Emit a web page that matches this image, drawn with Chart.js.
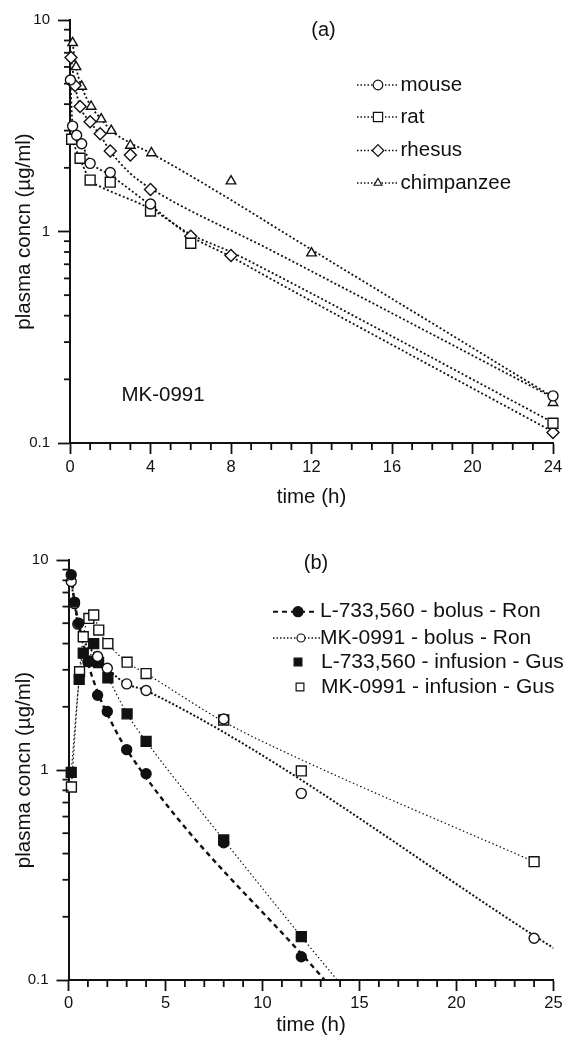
<!DOCTYPE html>
<html>
<head>
<meta charset="utf-8">
<script src="https://cdn.jsdelivr.net/npm/chart.js@4.4.1/dist/chart.umd.min.js"></script>
<style>
  html, body { margin: 0; padding: 0; background: #fff; }
  canvas { display: block; }
</style>
</head>
<body>
<canvas id="chartA" width="567" height="520" style="width:567px;height:520px"></canvas>
<canvas id="chartB" width="567" height="518" style="width:567px;height:518px"></canvas>
<script>
// ---- panel (a): MK-0991 in four species (h, ug/ml) ----
const speciesLabels = ['mouse', 'rat', 'rhesus', 'chimpanzee'];
const mouseTime  = [0.02, 0.13, 0.33, 0.58, 1.0, 2.0, 4.0, 24];
const mouseConc  = [5.2, 3.15, 2.85, 2.6, 2.1, 1.9, 1.35, 0.167];
const ratTime    = [0.08, 0.5, 1.0, 2.0, 4.0, 6.0, 24];
const ratConc    = [2.73, 2.22, 1.75, 1.71, 1.25, 0.88, 0.124];
const rhesusTime = [0.05, 0.25, 0.5, 1.0, 1.5, 2.0, 3.0, 4.0, 6.0, 8.0, 24];
const rhesusConc = [6.65, 4.9, 3.9, 3.3, 2.9, 2.4, 2.3, 1.58, 0.95, 0.77, 0.112];
const chimpTime  = [0.13, 0.3, 0.58, 1.05, 1.55, 2.05, 3.0, 4.05, 8.0, 12.0, 24];
const chimpConc  = [7.8, 6.0, 4.85, 3.9, 3.4, 3.0, 2.55, 2.35, 1.73, 0.79, 0.155];

// fitted curves (dotted)
const fitChimpTime  = [0.13, 0.3, 0.58, 1.05, 1.55, 2.05, 3.0, 4.0, 13.4, 24];
const fitChimpConc  = [7.8, 6.0, 4.85, 3.9, 3.4, 3.0, 2.62, 2.35, 0.68, 0.165];
const fitRhesusTime = [0.05, 0.25, 0.5, 1.0, 1.5, 2.0, 3.0, 4.0, 9.94, 24];
const fitRhesusConc = [6.6, 4.9, 3.9, 3.3, 2.85, 2.4, 1.88, 1.6, 0.82, 0.164];
const fitRatTime    = [0.08, 0.5, 1.0, 1.5, 2.0, 4.0, 6.0, 8.0, 9.94, 24];
const fitRatConc    = [2.73, 2.2, 1.75, 1.63, 1.55, 1.28, 0.97, 0.8, 0.645, 0.125];
const fitMouseTime  = [0.02, 0.13, 0.33, 0.58, 1.0, 2.0, 4.0, 6.0, 8.0, 9.94, 24];
const fitMouseConc  = [5.2, 3.15, 2.85, 2.6, 2.15, 1.85, 1.33, 0.95, 0.76, 0.6, 0.113];

// ---- panel (b): L-733,560 vs MK-0991 ----
const seriesLabelsB = ['L-733,560 - bolus - Ron', 'MK-0991 - bolus - Ron',
                       'L-733,560 - infusion - Gus', 'MK-0991 - infusion - Gus'];
const bolusL733Time = [0.14, 0.31, 0.53, 1.0, 1.5, 2.0, 3.0, 4.0, 8.0, 12.0];
const bolusL733Conc = [8.5, 6.3, 5.0, 3.28, 2.27, 1.9, 1.25, 0.96, 0.45, 0.129];
const bolusMKTime   = [0.14, 0.31, 0.48, 1.5, 2.0, 3.0, 4.0, 8.0, 12.0, 24];
const bolusMKConc   = [7.9, 6.2, 4.95, 3.47, 3.05, 2.57, 2.39, 1.75, 0.774, 0.158];
const infL733Time   = [0.14, 0.55, 0.76, 1.05, 1.3, 1.55, 2.03, 3.02, 4.0, 8.0, 12.0];
const infL733Conc   = [0.975, 2.7, 3.6, 3.3, 4.0, 3.25, 2.75, 1.85, 1.37, 0.465, 0.161];
const infMKTime     = [0.15, 0.57, 0.76, 1.05, 1.3, 1.56, 2.03, 3.02, 4.0, 8.0, 12.0, 24];
const infMKConc     = [0.83, 2.94, 4.31, 5.27, 5.47, 4.64, 4.0, 3.26, 2.88, 1.73, 0.99, 0.366];

// lines drawn through / fitted to the panel (b) data
const lineBolusL733Time = [0.14, 0.31, 0.53, 1.0, 1.5, 2.0, 3.0, 13.2];
const lineBolusL733Conc = [8.5, 6.3, 5.0, 3.25, 2.35, 1.85, 1.25, 0.1];
const lineBolusMKTime   = [0.14, 0.31, 0.48, 1.5, 2.0, 3.0, 4.0, 25];
const lineBolusMKConc   = [7.9, 6.2, 4.95, 3.47, 3.05, 2.57, 2.39, 0.142];
const lineInfL733Time   = [0.14, 0.55, 0.76, 1.05, 1.3, 1.55, 2.03, 3.02, 4.0, 8.0, 12.0, 13.85];
const lineInfL733Conc   = [0.975, 2.7, 3.6, 3.3, 4.0, 3.25, 2.75, 1.85, 1.37, 0.465, 0.161, 0.1];
const lineInfMKTime     = [0.15, 0.57, 0.76, 1.05, 1.3, 1.56, 2.03, 3.02, 4.0, 8.0, 12.0, 24];
const lineInfMKConc     = [0.83, 2.94, 4.31, 5.27, 5.47, 4.64, 4.0, 3.26, 2.88, 1.7, 1.12, 0.366];

// ---- ticks ----
const yMajorTicks  = [0.1, 1, 10];
const yTickLabels  = ['0.1', '1', '10'];
const yMinorTicks  = [0.2, 0.3, 0.4, 0.5, 0.6, 0.7, 0.8, 0.9, 2, 3, 4, 5, 6, 7, 8, 9];
const xTicksA      = [0, 4, 8, 12, 16, 20, 24];
const xMinorA      = [1, 2, 3, 5, 6, 7, 9, 10, 11, 13, 14, 15, 17, 18, 19, 21, 22, 23];
const xTicksB      = [0, 5, 10, 15, 20, 25];
const xMinorB      = [1, 2, 3, 4, 6, 7, 8, 9, 11, 12, 13, 14, 16, 17, 18, 19, 21, 22, 23, 24];

const INK = '#111';
const FONT = '"Liberation Sans", Arial, Helvetica, sans-serif';
Chart.defaults.font.family = FONT;
Chart.defaults.color = INK;

const pts = (t, c) => t.map((v, i) => ({ x: v, y: c[i] }));

function drawMarker(ctx, style, x, y, r, fill) {
  ctx.beginPath();
  if (style === 'circle') {
    ctx.arc(x, y, r, 0, Math.PI * 2);
  } else if (style === 'rect') {
    const s = r * Math.SQRT1_2;
    ctx.rect(x - s, y - s, 2 * s, 2 * s);
  } else if (style === 'rectRot') {
    ctx.moveTo(x, y - r); ctx.lineTo(x + r, y); ctx.lineTo(x, y + r); ctx.lineTo(x - r, y);
    ctx.closePath();
  } else if (style === 'triangle') {
    for (let k = 0; k < 3; k++) {
      const a = -Math.PI / 2 + k * 2 * Math.PI / 3;
      k === 0 ? ctx.moveTo(x + r * Math.cos(a), y + r * Math.sin(a)) : ctx.lineTo(x + r * Math.cos(a), y + r * Math.sin(a));
    }
    ctx.closePath();
  }
  ctx.fillStyle = fill;
  ctx.fill();
  ctx.stroke();
}

// minor tick marks (from the chart's own scales), texts and the in-plot legend
function makeAnnotate(minorX, minorY, texts, legend) {
  return {
    id: 'annotate',
    afterDraw(chart) {
      const ctx = chart.ctx;
      const area = chart.chartArea;
      const sx = chart.scales.x, sy = chart.scales.y;
      ctx.save();
      ctx.fillStyle = INK;
      minorY.forEach(v => {
        const y = sy.getPixelForValue(v);
        ctx.fillRect(area.left - 6, y - 0.9, 6, 1.8);
      });
      minorX.forEach(v => {
        const x = sx.getPixelForValue(v);
        ctx.fillRect(x - 0.9, area.bottom, 1.8, 7);
      });

      ctx.textBaseline = 'middle';
      texts.forEach(t => {
        ctx.fillStyle = INK;
        ctx.font = t.size + 'px ' + FONT;
        ctx.textAlign = 'center';
        ctx.fillText(t.text, t.x, t.y);
      });
      legend.forEach(it => {
        ctx.strokeStyle = INK;
        if (it.dash) {
          ctx.lineWidth = it.lineWidth;
          ctx.setLineDash(it.dash);
          ctx.beginPath();
          ctx.moveTo(it.x0, it.y);
          ctx.lineTo(it.x1, it.y);
          ctx.stroke();
        }
        ctx.setLineDash([]);
        ctx.lineWidth = 1.2;
        drawMarker(ctx, it.style, it.xm, it.y, it.r, it.fill);
        ctx.fillStyle = INK;
        ctx.font = it.size + 'px ' + FONT;
        ctx.textAlign = 'left';
        ctx.fillText(it.label, it.xt, it.y);
      });
      ctx.restore();
    }
  };
}

function axes(opts) {
  return {
    x: {
      type: 'linear', min: opts.xMin, max: opts.xMax, position: 'bottom',
      afterBuildTicks: ax => { ax.ticks = opts.xTicks.map(v => ({ value: v })); },
      afterFit: ax => { ax.height = opts.xHeight; },
      grid: { drawOnChartArea: false, drawTicks: true, tickLength: 11, tickWidth: 1.8, color: INK },
      border: { display: true, width: 2, color: INK },
      ticks: { font: { size: 16.5 }, color: INK, padding: opts.xPad, maxRotation: 0, autoSkip: false },
      title: { display: true, text: 'time (h)', font: { size: 20.5 }, color: INK, padding: { top: 0, bottom: opts.titlePad } }
    },
    y: {
      type: 'logarithmic', min: 0.1, max: 10, position: 'left',
      afterBuildTicks: ax => { ax.ticks = yMajorTicks.map(v => ({ value: v })); },
      afterFit: ax => { ax.width = opts.yWidth; },
      grid: { drawOnChartArea: false, drawTicks: true, tickLength: 12, tickWidth: 1.8, color: INK },
      border: { display: true, width: 2, color: INK },
      ticks: {
        font: { size: 15 }, color: INK, padding: 8, autoSkip: false,
        callback: v => yTickLabels[yMajorTicks.indexOf(v)]
      },
      title: { display: true, text: 'plasma concn (µg/ml)', font: { size: 20.5 }, color: INK, padding: { top: 11.7, bottom: 0 } }
    }
  };
}

function markers(label, t, c, style, r, fill) {
  return {
    label, data: pts(t, c), showLine: false, pointStyle: style, pointRadius: r,
    pointBackgroundColor: fill, pointBorderColor: INK, pointBorderWidth: 1.4, clip: 10
  };
}
function curve(t, c, dash, width, mode) {
  return {
    data: pts(t, c), showLine: true, pointRadius: 0, borderColor: INK, borderWidth: width,
    borderDash: dash, cubicInterpolationMode: mode || 'monotone', fill: false
  };
}

const dotA = [2, 2.3];

new Chart(document.getElementById('chartA'), {
  type: 'scatter',
  data: {
    datasets: [
      markers(speciesLabels[0], mouseTime, mouseConc, 'circle', 5, '#fff'),
      markers(speciesLabels[1], ratTime, ratConc, 'rect', 7, '#fff'),
      markers(speciesLabels[2], rhesusTime, rhesusConc, 'rectRot', 6, '#fff'),
      markers(speciesLabels[3], chimpTime, chimpConc, 'triangle', 5.5, '#fff'),
      curve(fitChimpTime, fitChimpConc, dotA, 1.8),
      curve(fitRhesusTime, fitRhesusConc, dotA, 1.8),
      curve(fitRatTime, fitRatConc, dotA, 1.8),
      curve(fitMouseTime, fitMouseConc, dotA, 1.8)
    ]
  },
  options: {
    responsive: false, animation: false, events: [],
    layout: { padding: { left: 0, top: 20, right: 14, bottom: 0 } },
    scales: axes({ xMin: 0, xMax: 24, xTicks: xTicksA, xHeight: 77, xPad: 4, titlePad: 10.7, yWidth: 70 }),
    plugins: { legend: { display: false }, tooltip: { enabled: false } }
  },
  plugins: [makeAnnotate(xMinorA, yMinorTicks,
    [
      { text: '(a)', x: 323.5, y: 30, size: 20 },
      { text: 'MK-0991', x: 163, y: 395, size: 20.5 }
    ],
    [
      { label: speciesLabels[0], style: 'circle', r: 4.8, fill: '#fff', y: 85, x0: 357, x1: 398, xm: 378, xt: 400.5, dash: [1.5, 2], lineWidth: 1.3, size: 20.5 },
      { label: speciesLabels[1], style: 'rect', r: 6.5, fill: '#fff', y: 117, x0: 357, x1: 398, xm: 378, xt: 400.5, dash: [1.5, 2], lineWidth: 1.3, size: 20.5 },
      { label: speciesLabels[2], style: 'rectRot', r: 5.8, fill: '#fff', y: 150.5, x0: 357, x1: 398, xm: 378, xt: 400.5, dash: [1.5, 2], lineWidth: 1.3, size: 20.5 },
      { label: speciesLabels[3], style: 'triangle', r: 4.5, fill: '#fff', y: 183, x0: 357, x1: 398, xm: 378, xt: 400.5, dash: [1.5, 2], lineWidth: 1.3, size: 20.5 }
    ])]
});

new Chart(document.getElementById('chartB'), {
  type: 'scatter',
  data: {
    datasets: [
      markers(seriesLabelsB[0], bolusL733Time, bolusL733Conc, 'circle', 5, INK),
      markers(seriesLabelsB[1], bolusMKTime, bolusMKConc, 'circle', 5, '#fff'),
      markers(seriesLabelsB[2], infL733Time, infL733Conc, 'rect', 7, INK),
      markers(seriesLabelsB[3], infMKTime, infMKConc, 'rect', 7, '#fff'),
      curve(lineBolusL733Time, lineBolusL733Conc, [5, 4], 2.4),
      curve(lineBolusMKTime, lineBolusMKConc, [2, 2], 2),
      curve(lineInfL733Time, lineInfL733Conc, [1.5, 2.5], 1.2),
      curve(lineInfMKTime, lineInfMKConc, [1.5, 2.5], 1.2)
    ]
  },
  options: {
    responsive: false, animation: false, events: [],
    layout: { padding: { left: 0, top: 40, right: 13.5, bottom: 0 } },
    scales: axes({ xMin: 0, xMax: 25, xTicks: xTicksB, xHeight: 58, xPad: 3, titlePad: 0.7, yWidth: 68.5 }),
    plugins: { legend: { display: false }, tooltip: { enabled: false } }
  },
  plugins: [makeAnnotate(xMinorB, yMinorTicks,
    [
      { text: '(b)', x: 316, y: 43, size: 20 }
    ],
    [
      { label: seriesLabelsB[0], style: 'circle', r: 5, fill: INK, y: 91.7, x0: 273, x1: 318, xm: 298, xt: 320, dash: [5, 4], lineWidth: 2, size: 21 },
      { label: seriesLabelsB[1], style: 'circle', r: 4, fill: '#fff', y: 118, x0: 273, x1: 320, xm: 301, xt: 320, dash: [1.5, 2], lineWidth: 1.3, size: 21 },
      { label: seriesLabelsB[2], style: 'rect', r: 5.5, fill: INK, y: 142, xm: 298, xt: 321, size: 21 },
      { label: seriesLabelsB[3], style: 'rect', r: 5.5, fill: '#fff', y: 167, xm: 300, xt: 321, size: 21 }
    ])]
});
</script>
</body>
</html>
